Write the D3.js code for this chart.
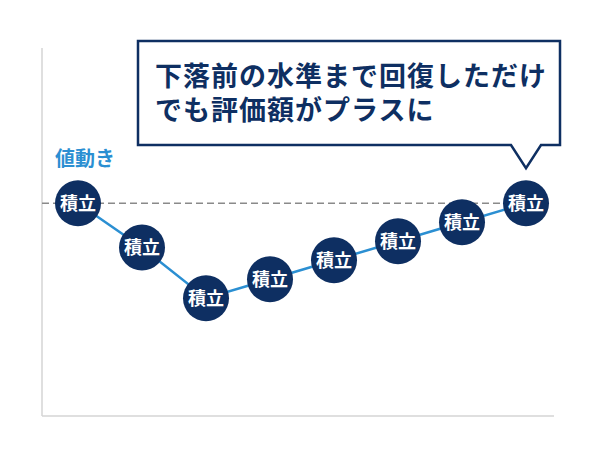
<!DOCTYPE html>
<html>
<head>
<meta charset="utf-8">
<script src="https://cdn.jsdelivr.net/npm/d3@7"></script>
<style>
  html, body { margin: 0; padding: 0; background: #fff; }
  svg { display: block; font-family: "Noto Sans CJK JP", "Noto Sans", sans-serif; }
</style>
</head>
<body>
<svg id="chart" width="600" height="451"></svg>
<script>
// 積立の各回（8回）と、その時点の値動き（下落前=100）
const steps = [1, 2, 3, 4, 5, 6, 7, 8];
const prices = [100, 86, 70, 76, 82, 88, 94, 100];
const pointLabel = "積立";
const axisLabel = "値動き";
const baseLevel = 100;
const calloutLines = ["下落前の水準まで回復しただけ", "でも評価額がプラスに"];

(function() {
  const navy = "#0e2f62";
  const blue = "#2b8fd2";
  const margin = {top: 48, left: 42, right: 46, bottom: 35};
  const width = 600, height = 451;

  const svg = d3.select("#chart");

  const x = d3.scalePoint()
    .domain(steps)
    .range([78, 526]);

  const y = d3.scaleLinear()
    .domain([32.8, 149])
    .range([height - margin.bottom, margin.top]);

  // 軸（目盛なしの灰色の線）
  svg.append("line")
    .attr("x1", margin.left).attr("x2", margin.left)
    .attr("y1", margin.top).attr("y2", height - margin.bottom)
    .attr("stroke", "#d4d4d4").attr("stroke-width", 1.5);

  svg.append("line")
    .attr("x1", margin.left).attr("x2", width - margin.right)
    .attr("y1", height - margin.bottom).attr("y2", height - margin.bottom)
    .attr("stroke", "#d4d4d4").attr("stroke-width", 1.5);

  // 下落前の水準（破線）
  svg.append("line")
    .attr("x1", margin.left).attr("x2", x(steps[steps.length - 1]))
    .attr("y1", y(baseLevel)).attr("y2", y(baseLevel))
    .attr("stroke", "#8a8a8a")
    .attr("stroke-width", 1.5)
    .attr("stroke-dasharray", "7,4");

  svg.append("text")
    .attr("x", 55)
    .attr("y", 166)
    .attr("font-size", 20)
    .attr("font-weight", 700)
    .attr("fill", blue)
    .text(axisLabel);

  const data = steps.map((s, i) => ({step: s, value: prices[i]}));

  svg.append("path")
    .datum(data)
    .attr("fill", "none")
    .attr("stroke", blue)
    .attr("stroke-width", 2.5)
    .attr("d", d3.line().x(d => x(d.step)).y(d => y(d.value)));

  const pts = svg.selectAll("g.pt")
    .data(data)
    .join("g")
    .attr("class", "pt")
    .attr("transform", d => `translate(${x(d.step)},${y(d.value)})`);

  pts.append("circle")
    .attr("r", 23)
    .attr("fill", navy);

  pts.append("text")
    .attr("text-anchor", "middle")
    .attr("dy", "0.36em")
    .attr("font-size", 18)
    .attr("font-weight", 700)
    .attr("fill", "#fff")
    .text(pointLabel);

  // 吹き出し
  const last = data[data.length - 1];
  const tipX = x(last.step);
  const box = {x: 138, y: 41, w: 422, h: 104};
  const tipY = y(last.value) - 35;

  const bubble = d3.path();
  bubble.moveTo(box.x, box.y);
  bubble.lineTo(box.x + box.w, box.y);
  bubble.lineTo(box.x + box.w, box.y + box.h);
  bubble.lineTo(tipX + 15, box.y + box.h);
  bubble.lineTo(tipX, tipY);
  bubble.lineTo(tipX - 15, box.y + box.h);
  bubble.lineTo(box.x, box.y + box.h);
  bubble.closePath();

  svg.append("path")
    .attr("d", bubble.toString())
    .attr("fill", "#fff")
    .attr("stroke", navy)
    .attr("stroke-width", 2.5)
    .attr("stroke-linejoin", "miter");

  svg.selectAll("text.callout")
    .data(calloutLines)
    .join("text")
    .attr("class", "callout")
    .attr("x", 155)
    .attr("y", (d, i) => 86 + i * 34)
    .attr("font-size", 27)
    .attr("font-weight", 700)
    .attr("letter-spacing", 1)
    .attr("fill", navy)
    .text(d => d);
})();
</script>
</body>
</html>
